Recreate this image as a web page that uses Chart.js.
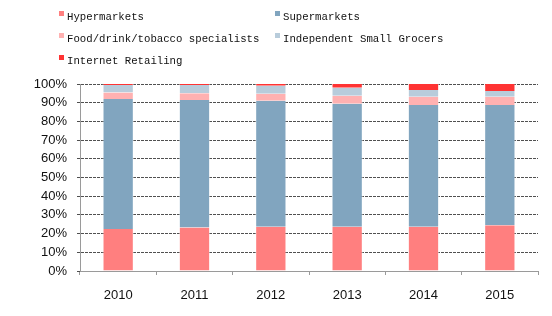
<!DOCTYPE html>
<html>
<head>
<meta charset="utf-8">
<script src="https://cdn.jsdelivr.net/npm/chart.js@4/dist/chart.umd.min.js"></script>
<style>
  html, body { margin: 0; padding: 0; background: #fff; }
  #wrap { position: relative; width: 552px; height: 316px; }
  #myChart { position: absolute; left: 0; top: 0; }
  .leg { position: absolute; font-family: "Liberation Mono", monospace; font-size: 10.7px; color: #111; white-space: nowrap; line-height: 12px; }
  .leg span.box { position: absolute; left: -8px; top: 0px; width: 5px; height: 5px; }
</style>
</head>
<body>
<div id="wrap">
  <canvas id="myChart" width="552" height="316"></canvas>
  <div id="legend"></div>
</div>
<script>
// chart data
const years = ['2010', '2011', '2012', '2013', '2014', '2015']
const seriesNames = ['Hypermarkets', 'Supermarkets', 'Food/drink/tobacco specialists', 'Independent Small Grocers', 'Internet Retailing']
const hypermarkets = [22.5, 23.3, 23.7, 23.7, 23.7, 24.4]
const supermarkets = [69.5, 68.1, 67.4, 65.8, 65.1, 64.4]
const foodSpecialists = [3.5, 3.6, 3.7, 4.2, 4.4, 4.4]
const smallGrocers = [4.0, 4.5, 4.3, 4.3, 3.6, 3.1]
const internetRetailing = [0.5, 0.5, 0.9, 2.0, 3.2, 3.7]
const yTicks = [0, 10, 20, 30, 40, 50, 60, 70, 80, 90, 100]

const colors = ['#FF7F7F', '#81A5BF', '#FFB1B1', '#B8CCDB', '#FF3333']
const values = [hypermarkets, supermarkets, foodSpecialists, smallGrocers, internetRetailing]

// legend, two columns
const legendPos = [[67, 11], [283, 11], [67, 33], [283, 33], [67, 55]]
const legendDiv = document.querySelector('#legend')
seriesNames.forEach((name, i) => {
    let item = document.createElement('div')
    item.className = 'leg'
    item.style.left = legendPos[i][0] + 'px'
    item.style.top = legendPos[i][1] + 'px'
    item.innerHTML = `<span class="box" style="background:${colors[i]}"></span>${name}`
    legendDiv.appendChild(item)
})

const ctx = document.getElementById('myChart')
new Chart(ctx, {
    type: 'bar',
    data: {
        labels: years,
        datasets: seriesNames.map((name, i) => ({
            label: name,
            data: values[i],
            backgroundColor: colors[i],
            borderColor: 'rgba(255,255,255,0.5)',
            borderWidth: { left: 1, right: 1, top: 0, bottom: 0 },
            categoryPercentage: 1,
            barPercentage: 0.41
        }))
    },
    options: {
        responsive: false,
        animation: false,
        layout: { padding: { top: 84, right: 14, left: 0, bottom: 0 } },
        plugins: {
            legend: { display: false },
            tooltip: { enabled: false }
        },
        scales: {
            x: {
                stacked: true,
                afterFit: (scale) => { scale.height = 45 },
                grid: { drawOnChartArea: false, drawTicks: true, tickLength: 4, color: '#9a9a9a', offset: true },
                border: { color: '#9a9a9a', width: 1 },
                ticks: { color: '#111', padding: 13, font: { family: 'Liberation Sans, Arial', size: 13 } }
            },
            y: {
                stacked: true,
                min: 0,
                max: 100,
                afterFit: (scale) => { scale.width = 80 },
                afterBuildTicks: (scale) => { scale.ticks = yTicks.map(v => ({ value: v })) },
                grid: { color: '#505050', tickLength: 3, lineWidth: 1 },
                border: { color: '#9a9a9a', dash: [3, 1], width: 1 },
                ticks: {
                    color: '#111',
                    padding: 10,
                    font: { family: 'Liberation Sans, Arial', size: 13 },
                    callback: (v) => v + '%'
                }
            }
        }
    }
});
</script>
</body>
</html>
